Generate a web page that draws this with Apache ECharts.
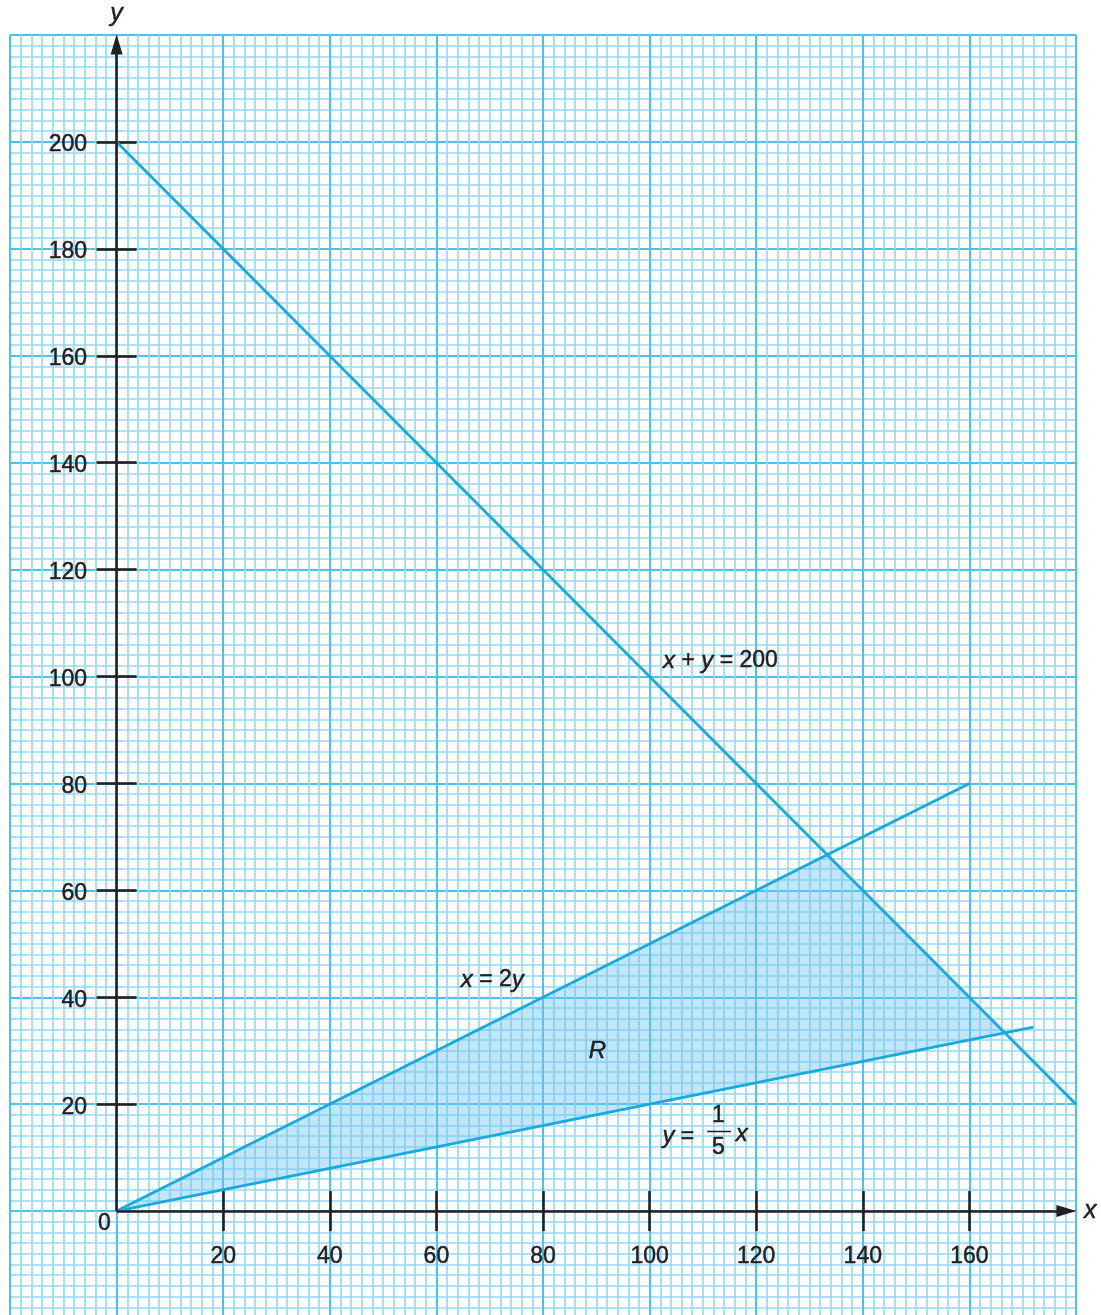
<!DOCTYPE html>
<html>
<head>
<meta charset="utf-8">
<script src="https://cdn.jsdelivr.net/npm/echarts@6/dist/echarts.min.js"></script>
<style>
html, body { margin: 0; padding: 0; background: #fff; }
#main { width: 1101px; height: 1315px; }
</style>
</head>
<body>
<div id="main"></div>
<script>
// boundary lines (end points of each drawn segment)
var lineSum = [[0, 200], [180, 20]];     // x + y = 200
var lineHalf = [[0, 0], [160, 80]];      // x = 2y
var lineFifth = [[0, 0], [172, 34.4]];   // y = x/5
// feasible region R
var regionR = [[0, 0], [133.33, 66.67], [166.67, 33.33]];
// tick labels
var xTicks = [20, 40, 60, 80, 100, 120, 140, 160];
var yTicks = [20, 40, 60, 80, 100, 120, 140, 160, 180, 200];
// annotations: [x, y, text]
var notes = [
	[113.3, 102.9, '{i|x} + {i|y} = 200'],
	[70.5, 43.2, '{i|x} = 2{i|y}'],
	[90.2, 29.9, '{i|R}'],
	[105.4, 14.0, '{i|y} ='],
	[112.9, 17.8, '1'],
	[112.9, 11.8, '5'],
	[117.3, 14.4, '{i|x}'],
	[-2.3, -2.4, '0']
];
var fracBar = [[110.8, 14.9], [115.3, 14.9]];

var ink = '#231f20';
var cyan = '#18a9e1';
var font = 'Liberation Sans';

var chart = echarts.init(document.getElementById('main'));

// graph paper: one axis per line weight
function paperAxis(min, max, step, color, width) {
	return {
		type: 'value', min: min, max: max, interval: step,
		axisLine: { show: false, onZero: false },
		axisTick: { show: false },
		axisLabel: { show: false },
		splitLine: { show: true, lineStyle: { color: color, width: width } }
	};
}

function tickAxis(min, max, pos, ticks, name, nameGap) {
	return {
		type: 'value', min: min, max: max, interval: 20, position: pos,
		name: name || '', nameLocation: 'end', nameGap: nameGap || 0,
		nameTextStyle: { color: ink, fontSize: 25, fontStyle: 'italic', fontFamily: font,
			textBorderColor: ink, textBorderWidth: 0.5 },
		axisLine: { show: false, onZero: true, onZeroAxisIndex: 0 },
		axisTick: { show: true, customValues: ticks, length: 20,
			lineStyle: { color: ink, width: 2.6 } },
		axisLabel: { show: false },
		splitLine: { show: false }
	};
}

var textLabel = {
	show: true,
	color: ink, fontSize: 23, fontFamily: font,
	textBorderColor: ink, textBorderWidth: 0.5,
	rich: { i: { fontStyle: 'italic', fontSize: 24, color: ink, fontFamily: font,
		textBorderColor: ink, textBorderWidth: 0.5 } }
};

function textSeries(data, label) {
	return {
		type: 'scatter', z: 6, silent: true, clip: false,
		symbolSize: 1, itemStyle: { color: 'rgba(0,0,0,0)', opacity: 1 },
		emphasis: { disabled: true },
		data: data,
		label: label
	};
}

var option = {
	animation: false,
	backgroundColor: '#fff',
	grid: { left: 10, top: 35, width: 1066, height: 1283, outerBoundsMode: 'none', containLabel: false },
	xAxis: [
		tickAxis(-20, 180, 'bottom', xTicks, 'x', 8),
		tickAxis(-20, 180, 'top', xTicks),
		paperAxis(-20, 180, 2, '#95d8f4', 1.6),
		paperAxis(-20, 180, 20, '#4cc2ee', 2)
	],
	yAxis: [
		tickAxis(-20, 220, 'left', yTicks, 'y', 8),
		tickAxis(-20, 220, 'right', yTicks),
		paperAxis(-20, 220, 2, '#95d8f4', 1.6),
		paperAxis(-20, 220, 20, '#4cc2ee', 2)
	],
	series: [
		{
			type: 'custom',
			z: 2,
			silent: true,
			data: [regionR[0]],
			renderItem: function (params, api) {
				var pts = regionR.map(function (p) { return api.coord(p); });
				return { type: 'polygon', shape: { points: pts },
					style: { fill: 'rgba(110, 196, 240, 0.42)' } };
			}
		},
		{ type: 'line', z: 3, data: lineSum, symbol: 'none', lineStyle: { color: cyan, width: 2.8 } },
		{ type: 'line', z: 3, data: lineHalf, symbol: 'none', lineStyle: { color: cyan, width: 2.8 } },
		{ type: 'line', z: 3, data: lineFifth, symbol: 'none', lineStyle: { color: cyan, width: 2.8 } },
		{
			// black axes with arrow heads
			type: 'line', z: 4, data: [], silent: true,
			markLine: {
				silent: true, animation: false,
				symbol: ['none', 'triangle'], symbolSize: [12, 20],
				label: { show: false },
				lineStyle: { color: ink, width: 2.6, type: 'solid' },
				data: [
					[{ coord: [0, 0] }, { coord: [178.2, 0] }],
					[{ coord: [0, 0] }, { coord: [0, 218.2] }]
				]
			}
		},
		{ type: 'line', z: 5, data: fracBar, symbol: 'none', lineStyle: { color: ink, width: 1.6 } },
		textSeries(notes, Object.assign({ position: 'inside',
			formatter: function (p) { return p.data[2]; } }, textLabel)),
		// x tick labels
		textSeries(xTicks.map(function (v) { return [v, 0]; }),
			Object.assign({ position: 'bottom', distance: 34,
				formatter: function (p) { return String(p.data[0]); } }, textLabel)),
		// y tick labels
		textSeries(yTicks.map(function (v) { return [0, v]; }),
			Object.assign({ position: 'left', distance: 29, offset: [0, 3],
				formatter: function (p) { return String(p.data[1]); } }, textLabel))
	]
};
chart.setOption(option);
</script>
</body>
</html>
